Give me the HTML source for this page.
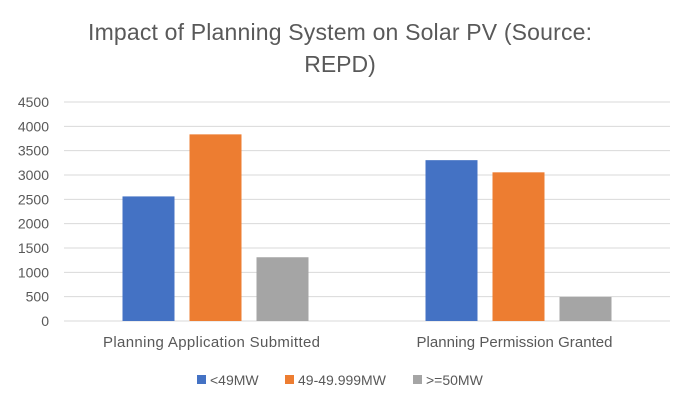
<!DOCTYPE html>
<html><head><meta charset="utf-8"><style>
body{margin:0;background:#fff;}
svg{display:block;font-family:"Liberation Sans",sans-serif;}
</style></head><body>
<svg id="chart" width="680" height="408">
<text x="340" y="40" font-size="23" fill="#595959" text-anchor="middle" textLength="504">Impact of Planning System on Solar PV (Source:</text>
<text x="340" y="72" font-size="23" fill="#595959" text-anchor="middle">REPD)</text>
<g id="grid"></g><g id="bars"></g><g id="labels"></g><g id="legend"></g>
</svg>
<script>
const categories=["Planning Application Submitted","Planning Permission Granted"];
const seriesNames=["<49MW","49-49.999MW",">=50MW"];
const s1=[2560,3305];
const s2=[3835,3055];
const s3=[1310,495];
const ticks=[0,500,1000,1500,2000,2500,3000,3500,4000,4500];
const colors=["#4472c4","#ed7d31","#a5a5a5"];
const NS="http://www.w3.org/2000/svg";
const L=64,R=670,T=102,B=321,maxV=4500;
const y=v=>B-(v/maxV)*(B-T);
const cw=(R-L)/categories.length;
const bw=52,gap=15;
const catLen=[217,196];
function mk(t,a,p){const e=document.createElementNS(NS,t);for(const k in a)e.setAttribute(k,a[k]);p.appendChild(e);return e;}
const grid=document.getElementById('grid');
ticks.forEach(t=>{
 const l=mk('line',{x1:L,x2:R,y1:y(t),y2:y(t),stroke:'#d9d9d9','stroke-width':1},grid);
 
 
 const tx=mk('text',{x:49,y:y(t)+5,'font-size':14,fill:'#595959','text-anchor':'end'},grid);
 tx.textContent=t;
 
 
});
const bars=document.getElementById('bars'),labels=document.getElementById('labels');
const series=[s1,s2,s3];
categories.forEach((c,i)=>{
 const cx=L+cw*(i+0.5);
 series.forEach((s,j)=>{
  const x=cx+(j-1)*(bw+gap)-bw/2;
  const r=mk('rect',{x:x,y:y(s[i]),width:bw,height:B-y(s[i]),fill:colors[j]},bars);
  
  
 });
 const t=mk('text',{x:cx-4,y:347,'font-size':15,fill:'#595959','text-anchor':'middle',textLength:catLen[i]},labels);
 t.textContent=c;
 
 
});
const lg=document.getElementById('legend');
const lx=[197,285,413];
seriesNames.forEach((n,j)=>{
 const r=mk('rect',{x:lx[j],y:375,width:9,height:9,fill:colors[j]},lg);
 
 
 const t=mk('text',{x:lx[j]+13,y:385,'font-size':14,fill:'#595959'},lg);
 t.textContent=n;
 
 
});
</script>
</body></html>
